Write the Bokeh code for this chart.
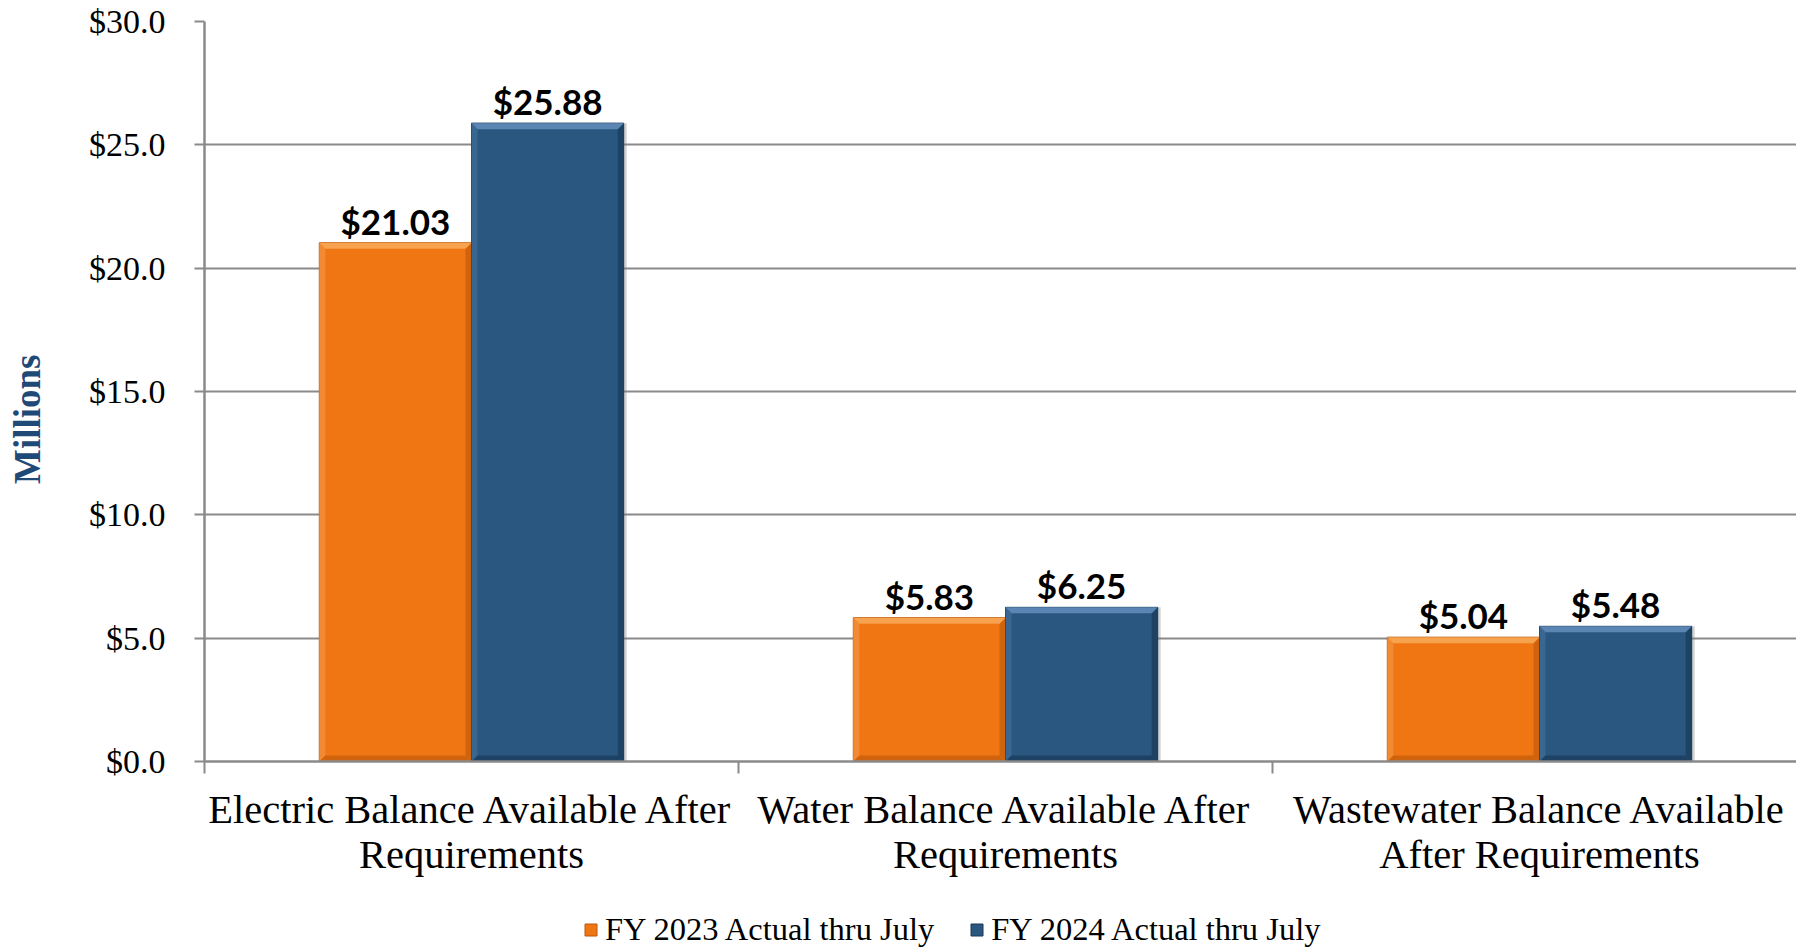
from bokeh.plotting import figure
from bokeh.layouts import column
from bokeh.models import (Range1d, FixedTicker, LinearAxis, NumeralTickFormatter,
                          Legend, LegendItem, ColumnDataSource)
from bokeh.core.properties import value
from bokeh.embed import file_html
from bokeh.resources import INLINE

# ---- data ----
categories = [
    "Electric Balance Available After\nRequirements",
    "Water Balance Available After\nRequirements",
    "Wastewater Balance Available\nAfter Requirements",
]
series_names = ["FY 2023 Actual thru July", "FY 2024 Actual thru July"]
fy2023 = [21.03, 5.83, 5.04]
fy2024 = [25.88, 6.25, 5.48]
y_ticks = [0, 5, 10, 15, 20, 25, 30]
y_title = "Millions"

# ---- styling ----
W, H = 1796, 948
LEGEND_H = 44
MAIN_H = H - LEGEND_H
LEFT, TOP = 204, 21
FRAME_BOTTOM = 761
BOTTOM = MAIN_H - FRAME_BOTTOM
CAT_PX = 534.0                      # width of one category slot in pixels
PX_PER_UNIT = (FRAME_BOTTOM - TOP) / 30.0
BAR_W = 0.285
SERIF = "Liberation Serif"
GRID = "#8a8a8a"

colors = {
    "FY 2023 Actual thru July": dict(main="#F07613", light="#F7A24F", side="#F28A33",
                                     dark="#C85F0C", line="#B9580C"),
    "FY 2024 Actual thru July": dict(main="#2A5780", light="#5B86B3", side="#3A6792",
                                     dark="#1C3D5C", line="#1A3956"),
}

x_end = 3 - (LEFT + 3 * CAT_PX - W) / CAT_PX

p = figure(width=W, height=MAIN_H, output_backend="svg", toolbar_location=None,
           x_range=Range1d(0, x_end), y_range=Range1d(0, 30),
           min_border_left=LEFT, min_border_right=0, min_border_top=TOP,
           min_border_bottom=BOTTOM, x_axis_location=None, y_axis_location=None)
p.outline_line_color = None
p.background_fill_color = "white"
p.border_fill_color = "white"
p.xgrid.visible = False
p.ygrid.ticker = FixedTicker(ticks=y_ticks)
p.ygrid.grid_line_color = GRID
p.ygrid.grid_line_width = 2

# ---- axes ----
yax = LinearAxis(ticker=FixedTicker(ticks=y_ticks),
                 formatter=NumeralTickFormatter(format="$0.0"))
yax.axis_line_color = GRID
yax.axis_line_width = 2.5
yax.major_tick_line_color = GRID
yax.major_tick_line_width = 2
yax.major_tick_out = 10
yax.major_tick_in = 0
yax.minor_tick_line_color = None
yax.major_label_standoff = 29
yax.major_label_text_font = SERIF
yax.major_label_text_font_size = "34px"
yax.major_label_text_color = "#000000"
p.add_layout(yax, "left")

# axis title on a bare axis left of the tick labels; the trailing no-break
# spaces lower the visible word a little below the frame centre
tax = LinearAxis(ticker=FixedTicker(ticks=[]), axis_label=y_title + "\u00a0" * 6)
tax.axis_line_color = None
tax.major_tick_line_color = None
tax.minor_tick_line_color = None
tax.major_label_text_font_size = "0px"
tax.major_label_standoff = 0
tax.axis_label_standoff = 38
tax.axis_label_text_font = SERIF
tax.axis_label_text_font_style = "bold"
tax.axis_label_text_font_size = "37px"
tax.axis_label_text_color = "#1F4A78"
p.add_layout(tax, "left")

# category boundary ticks
xb = LinearAxis(ticker=FixedTicker(ticks=[0, 1, 2, 3]))
xb.axis_line_color = GRID
xb.axis_line_width = 2.5
xb.major_tick_line_color = GRID
xb.major_tick_line_width = 2
xb.major_tick_out = 12
xb.major_tick_in = 0
xb.minor_tick_line_color = None
xb.major_label_overrides = {0: "", 1: "", 2: "", 3: ""}
xb.major_label_text_font_size = "0px"
xb.major_label_standoff = 0
p.add_layout(xb, "below")

# category names centred in each slot
centers = [i + 0.5 for i in range(len(categories))]
xl = LinearAxis(ticker=FixedTicker(ticks=centers))
xl.axis_line_color = None
xl.major_tick_line_color = None
xl.minor_tick_line_color = None
xl.major_label_overrides = {c: name for c, name in zip(centers, categories)}
xl.major_label_text_font = SERIF
xl.major_label_text_font_size = "40.5px"
xl.major_label_text_line_height = 1.0
xl.major_label_text_color = "#000000"
xl.major_label_standoff = 7
p.add_layout(xl, "below")

# ---- bars with bevelled edges ----
dx = 6.0 / CAT_PX
dy = 6.0 / PX_PER_UNIT
offsets = [-BAR_W / 2, BAR_W / 2]
for name, vals, off in zip(series_names, [fy2023, fy2024], offsets):
    c = colors[name]
    xs = [ctr + off for ctr in centers]
    src = ColumnDataSource(dict(x=xs, top=vals, label=[f"${v:.2f}" for v in vals]))
    # soft shadow
    p.vbar(x=[x + 3.0 / CAT_PX for x in xs], top=vals, bottom=-0.15, width=BAR_W,
           fill_color="#7f7f7f", fill_alpha=0.35, line_color=None)
    p.vbar(x="x", top="top", bottom=0, width=BAR_W, source=src,
           fill_color=c["main"], line_color=c["line"], line_width=1)
    tops_x, tops_y, lefts_x, lefts_y, rights_x, rights_y, bots_x, bots_y = ([] for _ in range(8))
    for x, v in zip(xs, vals):
        l, rr, t, b = x - BAR_W / 2, x + BAR_W / 2, v, 0.0
        tops_x.append([l, rr, rr - dx, l + dx]); tops_y.append([t, t, t - dy, t - dy])
        lefts_x.append([l, l, l + dx, l + dx]); lefts_y.append([b, t, t - dy, b + dy])
        rights_x.append([rr, rr, rr - dx, rr - dx]); rights_y.append([b, t, t - dy, b + dy])
        bots_x.append([l, rr, rr - dx, l + dx]); bots_y.append([b, b, b + dy, b + dy])
    p.patches(lefts_x, lefts_y, fill_color=c["side"], line_color=None)
    p.patches(rights_x, rights_y, fill_color=c["dark"], line_color=None, fill_alpha=0.8)
    p.patches(bots_x, bots_y, fill_color=c["dark"], line_color=None, fill_alpha=0.8)
    p.patches(tops_x, tops_y, fill_color=c["light"], line_color=None)
    p.text(x="x", y="top", text="label", source=src, text_align="center",
           text_baseline="bottom", y_offset=-1, text_font=value("Lato"),
           text_font_style="bold", text_font_size="35px", text_color="#000000")

# ---- legend strip under the chart (its frame lines up with the chart frame) ----
lg = figure(width=W, height=LEGEND_H, output_backend="svg", toolbar_location=None,
            x_range=Range1d(0, 1), y_range=Range1d(0, 1), min_border=0,
            x_axis_location=None, y_axis_location=None)
lg.outline_line_color = None
lg.grid.visible = False
legend_items = []
for name in series_names:
    c = colors[name]
    # swatch source kept outside the visible range; only its legend entry shows
    r = lg.vbar(x=[5], top=[1], width=0.1, fill_color=c["main"], line_color=c["line"])
    legend_items.append(LegendItem(label=name, renderers=[r]))
legend = Legend(items=legend_items, orientation="horizontal",
                location=(583 - LEFT, 0), padding=0, margin=0, spacing=35,
                glyph_width=15, glyph_height=15, label_standoff=7, label_height=30,
                label_text_font=SERIF, label_text_font_size="32.5px",
                label_text_color="#000000", border_line_color=None,
                background_fill_alpha=0)
lg.add_layout(legend)

layout = column(p, lg, spacing=0)
open("out.html", "w").write(file_html(layout, INLINE))
